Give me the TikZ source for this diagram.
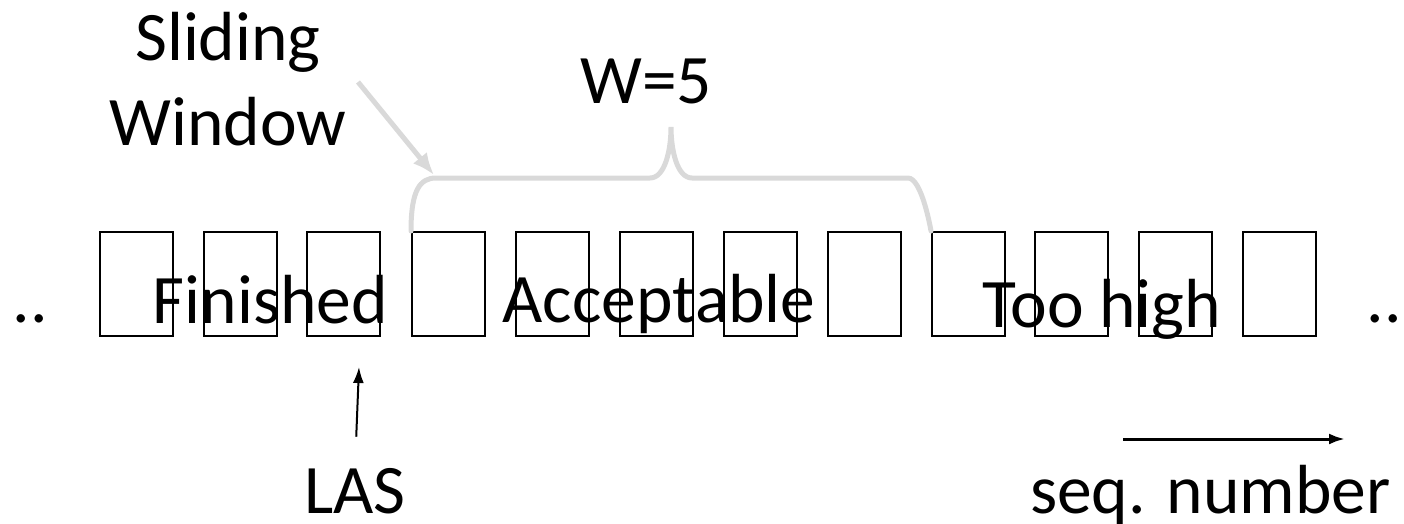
\documentclass[tikz,border=0pt]{standalone}
\usepackage{fontspec}
\setmainfont{Carlito}
\usetikzlibrary{positioning}
\usetikzlibrary{arrows.meta}

\definecolor{bracegray}{HTML}{D9D9D9}

\begin{document}
\begin{tikzpicture}[x=1pt,y=-1pt,
  cell/.style={draw,line width=2pt,minimum width=73pt,minimum height=104pt,inner sep=0pt},
  lbl/.style={font=\fontsize{69.5}{85}\selectfont,inner sep=0pt,anchor=base},
  pointer/.style={line width=2pt,-{Latex[length=16pt,width=11pt]}},
  grayline/.style={bracegray,line width=5pt,line cap=round}]
\useasboundingbox (0,0) rectangle (1404,524);

% the sequence slots
\node[cell] (b1) at (136.5,284) {};
\node[cell] (b2) at (240,284) {};
\node[cell] (b3) at (343.5,284) {};
\node[cell] (b4) at (448.5,284) {};
\node[cell] (b5) at (552.5,284) {};
\node[cell] (b6) at (656.5,284) {};
\node[cell] (b7) at (760.5,284) {};
\node[cell] (b8) at (864,284) {};
\node[cell] (b9) at (968.5,284) {};
\node[cell] (b10) at (1071.5,284) {};
\node[cell] (b11) at (1175.5,284) {};
\node[cell] (b12) at (1279.5,284) {};

\node[lbl] (dotsl) at (30.5,322) {..};
\node[lbl] (dotsr) at (1384.5,322) {..};
\node[lbl] (fin) at (270.5,323) {Finished};
\node[lbl] (acc) at (659,322) {Acceptable};
\node[lbl] (high) at (1102,327) {Too high};

\node[lbl] (las) at (355,513) {LAS};
\node[lbl] (seq) at (1210.5,513) {seq. number};
\node[lbl] (wsize) at (646,103) {W=5};
% base of a two-line node is the last line
\node[lbl,align=center] (swin) at (228,145) {Sliding\\Window};

% window brace
\draw[grayline] (b4.north west) .. controls (411,190) and (420,178) .. (436,178)
  -- (650,178) .. controls (665,178) and (671,150) .. (671,127)
  .. controls (671,150) and (677,178) .. (692,178)
  -- (908,178) .. controls (922,178) and (b9.north west) .. (b9.north west);

\coordinate (swtail) at (358,82);
\coordinate (swtip) at (434,175);
\draw[bracegray,line width=5pt,-{Latex[length=22pt,width=18pt]}] (swtail) -- (swtip);

\coordinate (lastip) at (359,367);
\draw[pointer,shorten <=31pt] (las.north) -- (lastip);

\coordinate (seqa) at (1123,439);
\coordinate (seqb) at (1345,439);
\draw[pointer,line width=3pt] (seqa) -- (seqb);

\end{tikzpicture}
\end{document}
